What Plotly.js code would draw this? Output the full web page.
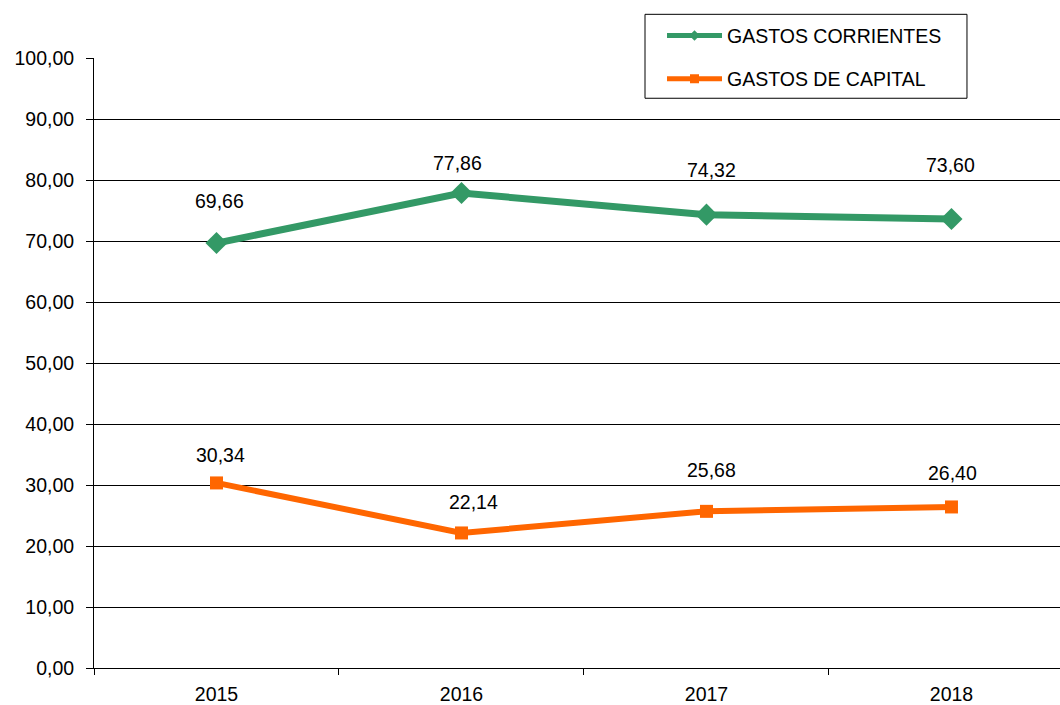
<!DOCTYPE html>
<html>
<head>
<meta charset="utf-8">
<script src="https://cdn.plot.ly/plotly-3.0.1.min.js"></script>
<style>html,body{margin:0;padding:0;background:#fff;}#chart{width:1060px;height:705px;}</style>
</head>
<body>
<div id="chart"></div>
<script>
const years = ['2015', '2016', '2017', '2018'];
const gastosCorrientes = [69.66, 77.86, 74.32, 73.60];
const gastosCapital = [30.34, 22.14, 25.68, 26.40];
const seriesNames = ['GASTOS CORRIENTES', 'GASTOS DE CAPITAL'];

// label offsets (layout styling, px)
const labelShiftCorr = [[3, 42], [-4, 30], [5, 45], [-1, 54]];
const labelShiftCap = [[4, 28], [12, 31], [5, 41], [1, 34]];

const green = '#339966';
const orange = '#FF6600';
const fontFam = 'Liberation Sans, Arial, sans-serif';

function fmt(v) { return v.toFixed(2).replace('.', ','); }

const traces = [
  { x: years, y: gastosCorrientes, type: 'scatter', mode: 'lines+markers', name: seriesNames[0],
    line: { color: green, width: 7 }, marker: { symbol: 'diamond', size: 17, color: green },
    showlegend: false, hoverinfo: 'skip' },
  { x: years, y: gastosCapital, type: 'scatter', mode: 'lines+markers', name: seriesNames[1],
    line: { color: orange, width: 6 }, marker: { symbol: 'square', size: 13, color: orange },
    showlegend: false, hoverinfo: 'skip' },
  { x: [null], y: [null], type: 'scatter', mode: 'lines+markers', name: seriesNames[0],
    line: { color: green, width: 5 }, marker: { symbol: 'diamond', size: 8, color: green }, legendgroup: 'a' },
  { x: [null], y: [null], type: 'scatter', mode: 'lines+markers', name: seriesNames[1],
    line: { color: orange, width: 5 }, marker: { symbol: 'square', size: 9, color: orange }, legendgroup: 'b' }
];

const annotations = [];
years.forEach((yr, i) => {
  annotations.push({ xref: 'x', yref: 'y', x: i, y: gastosCorrientes[i], text: fmt(gastosCorrientes[i]), showarrow: false,
    xshift: labelShiftCorr[i][0], yshift: labelShiftCorr[i][1], font: { family: fontFam, size: 19.5, color: '#000' } });
  annotations.push({ xref: 'x', yref: 'y', x: i, y: gastosCapital[i], text: fmt(gastosCapital[i]), showarrow: false,
    xshift: labelShiftCap[i][0], yshift: labelShiftCap[i][1], font: { family: fontFam, size: 19.5, color: '#000' } });
});

const layout = {
  width: 1060, height: 705,
  margin: { l: 94, r: 0, t: 58, b: 37 },
  paper_bgcolor: '#fff', plot_bgcolor: '#fff',
  font: { family: fontFam, size: 19.5, color: '#000' },
  separators: ',.',
  xaxis: {
    type: 'category', categoryorder: 'array', categoryarray: years,
    range: [-0.5, 3.443], tickson: 'boundaries', ticks: 'outside', ticklen: 6, tickcolor: '#000',
    ticklabelstandoff: 9,
    showline: true, linecolor: '#000', linewidth: 1, showgrid: false, zeroline: false,
    tickfont: { family: fontFam, size: 19.5, color: '#000' }
  },
  yaxis: {
    range: [0, 100], dtick: 10, tick0: 0, tickformat: '.2f',
    ticks: 'outside', ticklen: 7, tickcolor: '#000', ticklabelstandoff: 8,
    showline: true, linecolor: '#000', linewidth: 1,
    showgrid: true, gridcolor: '#000', gridwidth: 1, zeroline: false,
    tickfont: { family: fontFam, size: 19.5, color: '#000' }
  },
  legend: {
    x: 0.588, y: 1.0683, xanchor: 'left', yanchor: 'top',
    bgcolor: 'rgba(0,0,0,0)', borderwidth: 0,
    font: { family: fontFam, size: 19.5, color: '#000' },
    itemwidth: 55, tracegroupgap: 15, traceorder: 'grouped'
  },
  shapes: [
    { type: 'rect', xref: 'paper', yref: 'paper', x0: 0.5704, x1: 0.9037, y0: 0.934, y1: 1.0716,
      fillcolor: '#fff', line: { color: '#000', width: 1 }, layer: 'above' }
  ],
  annotations: annotations,
  showlegend: true
};

Plotly.newPlot('chart', traces, layout, { displayModeBar: false, staticPlot: true });
</script>
</body>
</html>
